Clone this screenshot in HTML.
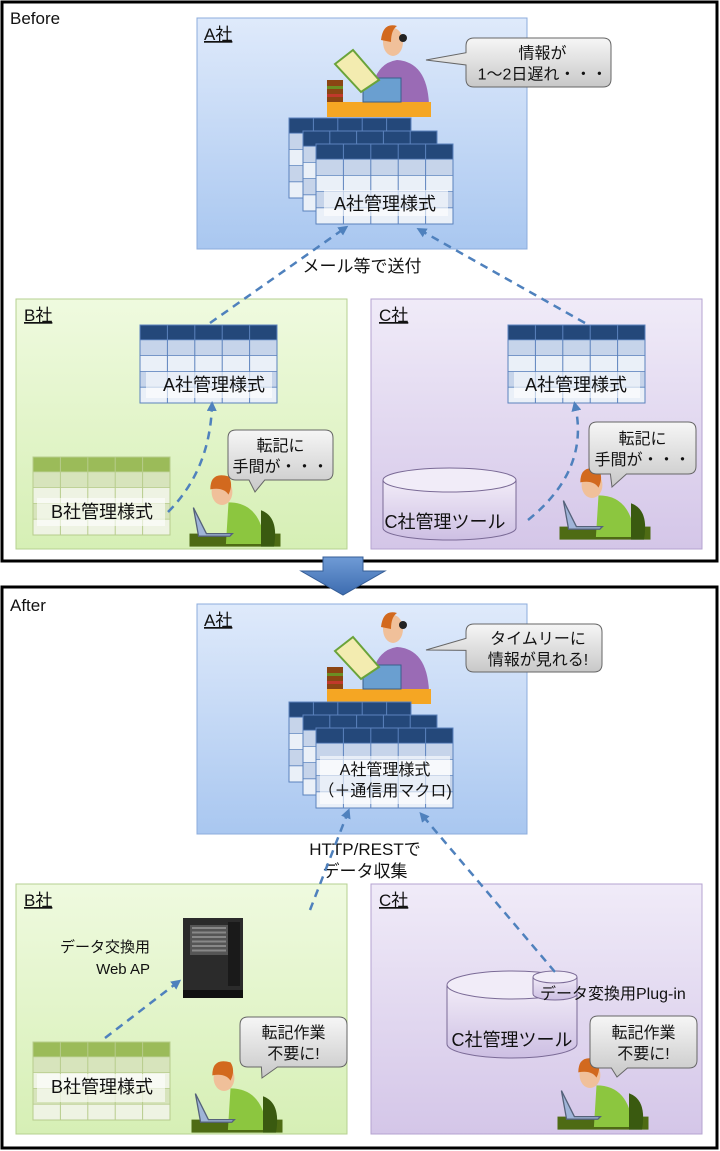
<!DOCTYPE html>
<html><head><meta charset="utf-8">
<style>
html,body{margin:0;padding:0;background:#fff}
svg{display:block}
text{font-family:"Liberation Sans","Noto Sans CJK JP",sans-serif;fill:#111}
</style></head><body>
<svg id="s" width="720" height="1151" viewBox="0 0 720 1151" xmlns="http://www.w3.org/2000/svg">
<defs>
<linearGradient id="ga" x1="0" y1="0" x2="0" y2="1"><stop offset="0" stop-color="#dfeafb"/><stop offset="1" stop-color="#a9c7f0"/></linearGradient>
<linearGradient id="gb" x1="0" y1="0" x2="0" y2="1"><stop offset="0" stop-color="#effadf"/><stop offset="1" stop-color="#d6efb5"/></linearGradient>
<linearGradient id="gc" x1="0" y1="0" x2="0" y2="1"><stop offset="0" stop-color="#f0ebf8"/><stop offset="1" stop-color="#d4c6e8"/></linearGradient>
<linearGradient id="gbub" x1="0" y1="0" x2="0" y2="1"><stop offset="0" stop-color="#f6f6f6"/><stop offset="1" stop-color="#c8c8c8"/></linearGradient>
<linearGradient id="gcyl" x1="0" y1="0" x2="0" y2="1"><stop offset="0" stop-color="#f2ecf8"/><stop offset="1" stop-color="#cdbfe3"/></linearGradient>
<linearGradient id="garr" x1="0" y1="0" x2="0" y2="1"><stop offset="0" stop-color="#6f9bd6"/><stop offset="1" stop-color="#3d6cb0"/></linearGradient>
<marker id="ah" viewBox="0 0 10 10" refX="6" refY="5" markerWidth="4" markerHeight="4" orient="auto"><path d="M0,0 L10,5 L0,10 z" fill="#4f81bd"/></marker>
</defs>
<g id="g"></g>
</svg>
<script>
var o='';
function R(x,y,w,h,f,st,sw){o+='<rect x="'+x+'" y="'+y+'" width="'+w+'" height="'+h+'" fill="'+f+'"'+(st?' stroke="'+st+'" stroke-width="'+(sw||1)+'"':'')+'/>';}
function T(x,y,t,sz,a,u){o+='<text x="'+x+'" y="'+y+'" font-size="'+sz+'" text-anchor="'+(a||'middle')+'"'+(u?' text-decoration="underline"':'')+'>'+t+'</text>';}
function tbl(x,y,w,h,hd,r1,r2,ln){var hh=h*0.19;R(x,y,w,hh,hd);var rows=4,rh=(h-hh)/rows;for(var i=0;i<rows;i++)R(x,y+hh+i*rh,w,rh,i%2?r2:r1);
 for(var c=1;c<5;c++){o+='<line x1="'+(x+w*c/5)+'" y1="'+y+'" x2="'+(x+w*c/5)+'" y2="'+(y+h)+'" stroke="'+ln+'" stroke-width="1"/>';}
 for(var i=0;i<=rows;i++){o+='<line x1="'+x+'" y1="'+(y+hh+i*rh)+'" x2="'+(x+w)+'" y2="'+(y+hh+i*rh)+'" stroke="'+ln+'" stroke-width="0.8"/>';}
 R(x,y,w,h,'none',ln,1);}
function btbl(x,y,w,h){tbl(x,y,w,h,'#24487a','#c6d4ea','#eaf0f8','#5b82bd');}
function gtbl(x,y,w,h){tbl(x,y,w,h,'#9bbb59','#d7e4bc','#eef3e3','#b7cc8c');}
function band(x,y,w,h){o+='<rect x="'+x+'" y="'+y+'" width="'+w+'" height="'+h+'" fill="#ffffff" fill-opacity="0.6"/>';}
function stack(y){btbl(289,y,122,80);btbl(303,y+13,134,80);btbl(316,y+26,137,80);}
function bub(x,y,w,h,tx,ty,lines){o+='<path d="M'+(x+8)+','+y+' h'+(w-16)+' q8,0 8,8 v'+(h-16)+' q0,8 -8,8 H'+(x+w*0.35)+' L'+tx+','+ty+' L'+(x+w*0.2)+','+(y+h)+' H'+(x+8)+' q-8,0 -8,-8 v-'+(h-16)+' q0,-8 8,-8z" fill="url(#gbub)" stroke="#666" stroke-width="1"/>';
 for(var i=0;i<lines.length;i++)T(x+w/2,y+h/2-(lines.length-1)*10+i*21+6,lines[i],16);}
function bubL(x,y,w,h,tx,ty,lines){o+='<path d="M'+(x+8)+','+y+' h'+(w-16)+' q8,0 8,8 v'+(h-16)+' q0,8 -8,8 H'+(x+8)+' q-8,0 -8,-8 V'+(y+h*0.55)+' L'+tx+','+ty+' L'+x+','+(y+h*0.3)+' V'+(y+8)+' q0,-8 8,-8z" fill="url(#gbub)" stroke="#666" stroke-width="1"/>';
 for(var i=0;i<lines.length;i++)T(x+w/2+4,y+h/2-(lines.length-1)*10+i*21+6,lines[i],16);}
function dash(d){o+='<path d="'+d+'" fill="none" stroke="#4f81bd" stroke-width="2.5" stroke-dasharray="8,6" marker-end="url(#ah)"/>';}
function cyl(x,y,w,h,eh){o+='<path d="M'+x+','+(y+eh)+' V'+(y+h-eh)+' A'+(w/2)+','+eh+' 0 0 0 '+(x+w)+','+(y+h-eh)+' V'+(y+eh)+'" fill="url(#gcyl)" stroke="#7a6a96"/>';
 o+='<ellipse cx="'+(x+w/2)+'" cy="'+(y+eh)+'" rx="'+(w/2)+'" ry="'+eh+'" fill="#f1ecf8" stroke="#7a6a96"/>';}
function boss(x,y){
 o+='<path d="M'+(x-22)+','+(y+62)+' q0,-40 26,-44 q30,2 32,44z" fill="#9a6bb5"/>';
 o+='<rect x="'+(x-66)+'" y="'+(y+60)+'" width="104" height="15" fill="#f5a623"/>';
 o+='<ellipse cx="'+x+'" cy="'+y+'" rx="10" ry="14" fill="#f0c09a"/><path d="M'+(x-12)+','+(y-2)+' q2,-18 16,-14 q-6,4 -6,16z" fill="#d2691e"/>';
 o+='<circle cx="'+(x+10)+'" cy="'+(y-4)+'" r="4" fill="#222"/>';
 o+='<rect x="'+(x-30)+'" y="'+(y+36)+'" width="38" height="24" fill="#6a9fd0" stroke="#3a5f8a"/>';
 o+='<rect x="'+(x-66)+'" y="'+(y+38)+'" width="16" height="22" fill="#8b4513"/><rect x="'+(x-66)+'" y="'+(y+44)+'" width="16" height="3" fill="#6b8e23"/><rect x="'+(x-66)+'" y="'+(y+52)+'" width="16" height="3" fill="#c0392b"/>';
 o+='<path d="M'+(x-58)+','+(y+22)+' l18,-14 l26,30 l-18,12z" fill="#f3ecb0" stroke="#6aa33a" stroke-width="2"/>';}
function worker(x,y){
 o+='<g transform="translate('+x+','+y+') scale(1.3)">';
 o+='<rect x="-25" y="32" width="70" height="10" fill="#4e6b14"/>';
 o+='<path d="M5,8 q25,0 28,32 h-30z" fill="#8cc63f"/>';
 o+='<path d="M30,14 q14,5 10,28 h-10z" fill="#3a5a10"/>';
 o+='<ellipse cx="0" cy="0" rx="8" ry="10" fill="#f0c09a"/><path d="M-9,-2 q0,-14 14,-10 q4,6 0,14 q-4,-6 -14,-4z" fill="#d2691e"/>';
 o+='<path d="M-22,12 l10,20 h20 l-2,2 h-24z" fill="#9fb4d8" stroke="#55627a"/></g>';}
R(2,2,715,559,'#fff','#000',3);R(2,587,715,561,'#fff','#000',3);
T(10,24,'Before',17,'start');T(10,611,'After',17,'start');
o+='<path d="M323,557 h40 v14 h22 l-42,24 l-42,-24 h22z" fill="url(#garr)" stroke="#355d96"/>';
R(197,18,330,231,'url(#ga)','#8cacdc');R(16,299,331,250,'url(#gb)','#b6d090');R(371,299,331,250,'url(#gc)','#b5a3d0');
T(204,40,'A社',17,'start',1);T(24,321,'B社',17,'start',1);T(379,321,'C社',17,'start',1);
boss(393,42);
bubL(466,38,145,49,426,60,['情報が','1～2日遅れ・・・']);
stack(118);band(324,190,124,26);T(385,210,'A社管理様式',18);
btbl(140,325,137,78);band(146,372,126,26);T(214,391,'A社管理様式',18);
btbl(508,325,137,78);band(514,372,126,26);T(576,391,'A社管理様式',18);
gtbl(33,457,137,78);band(37,498,128,28);T(102,518,'B社管理様式',18);
cyl(383,468,133,72,12);T(445,528,'C社管理ツール',18);
worker(222,492);worker(592,485);
bub(228,430,105,50,255,492,['転記に','手間が・・・']);
bub(589,422,107,52,612,487,['転記に','手間が・・・']);
T(362,272,'メール等で送付',17);
dash('M210,323 L345,228');dash('M585,323 L420,230');
dash('M168,512 Q210,470 212,405');dash('M528,520 Q590,470 575,405');
R(197,604,330,230,'url(#ga)','#8cacdc');R(16,884,331,250,'url(#gb)','#b6d090');R(371,884,331,250,'url(#gc)','#b5a3d0');
T(204,626,'A社',17,'start',1);T(24,906,'B社',17,'start',1);T(379,906,'C社',17,'start',1);
boss(393,629);
bubL(466,624,136,48,426,650,['タイムリーに','情報が見れる!']);
stack(702);band(320,756,130,48);T(385,775,'A社管理様式',16);T(385,796,'（＋通信用マクロ)',16);
T(365,855,'HTTP/RESTで',17);T(365,877,'データ収集',17);
R(183,918,60,72,'#2b2b2b');R(190,925,38,30,'#555');for(var i=0;i<6;i++)R(192,927+i*4.5,34,2,'#888');R(228,922,12,64,'#1a1a1a');R(183,990,60,8,'#111');
T(150,952,'データ交換用',15,'end');T(150,974,'Web AP',15,'end');
gtbl(33,1042,137,78);band(37,1074,128,28);T(102,1093,'B社管理様式',18);
cyl(447,971,130,87,14);cyl(533,971,44,29,6);
T(512,1046,'C社管理ツール',18);T(540,999,'データ変換用Plug-in',16,'start');
worker(224,1078);worker(590,1075);
bub(240,1017,107,50,262,1078,['転記作業','不要に!']);
bub(590,1016,107,52,617,1077,['転記作業','不要に!']);
dash('M105,1038 L178,982');dash('M310,910 L348,812');dash('M555,972 L422,815');
document.getElementById('g').innerHTML=o;
</script>
</body></html>
